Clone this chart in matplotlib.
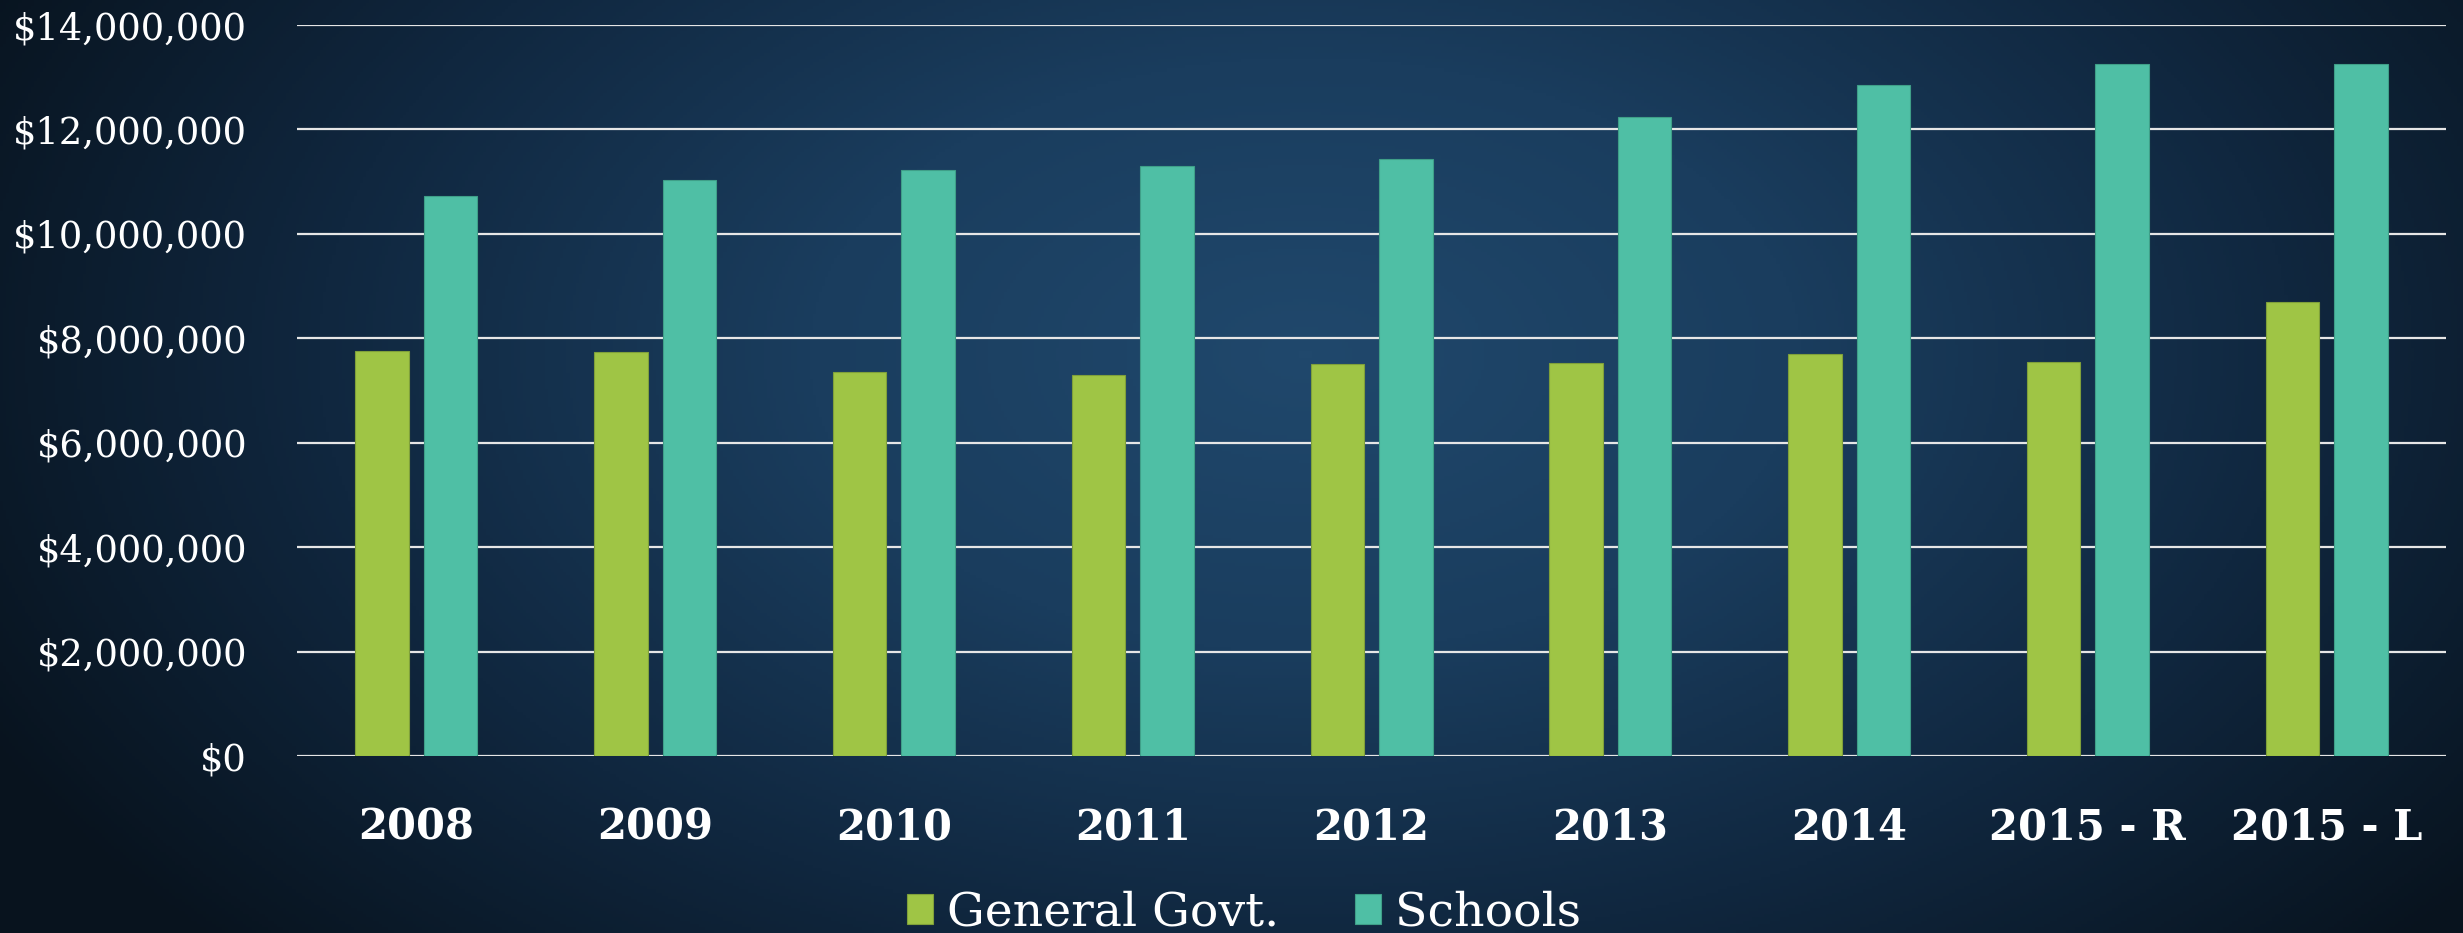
import numpy as np
import matplotlib
matplotlib.use("Agg")
import matplotlib.pyplot as plt
from matplotlib.ticker import FuncFormatter
from matplotlib.colors import LinearSegmentedColormap

# data
years = ['2008', '2009', '2010', '2011', '2012', '2013', '2014', '2015 - R', '2015 - L']
general_govt = [7760000, 7740000, 7350000, 7290000, 7510000, 7530000, 7690000, 7540000, 8690000]
schools = [10720000, 11030000, 11230000, 11300000, 11440000, 12230000, 12850000, 13260000, 13260000]

green = '#9fc545'
teal = '#4fbfa5'

plt.rcParams['font.family'] = ['DejaVu Serif']

fig = plt.figure(figsize=(24.63, 9.33), dpi=100)

# background: dark blue vignette, brightest upper centre
bg = fig.add_axes([0, 0, 1, 1], zorder=-10)
yy, xx = np.mgrid[0:1:300j, 0:1:800j]
r = np.sqrt(((xx - 0.53) / 0.6) ** 2 + ((yy - 0.38) / 0.95) ** 2)
cmap = LinearSegmentedColormap.from_list('bg', ['#20486c', '#1a3d5e', '#10273f', '#08131e'])
bg.imshow(r, cmap=cmap, vmin=0, vmax=1.0, aspect='auto', extent=[0, 1, 0, 1])
bg.axis('off')

ax = fig.add_axes([0.1206, 0.1897, 0.9931 - 0.1206, 0.9732 - 0.1897])
ax.patch.set_alpha(0)

x = np.arange(len(years))
w = 0.224
off = 0.1435
ax.bar(x - off, general_govt, w, color=green, edgecolor='#7fa03a', linewidth=0.8,
       label='General Govt.', zorder=3)
ax.bar(x + off, schools, w, color=teal, edgecolor='#3f9f88', linewidth=0.8,
       label='Schools', zorder=3)

ax.set_xlim(-0.5, len(years) - 0.5)
ax.set_ylim(0, 14000000)
ax.set_yticks(np.arange(0, 14000001, 2000000))
ax.yaxis.set_major_formatter(FuncFormatter(lambda v, p: '${:,.0f}'.format(v)))
ax.grid(axis='y', color='#e6e6e6', linewidth=1.6, zorder=1)
ax.set_axisbelow(True)
for s in ax.spines.values():
    s.set_visible(False)

ax.set_xticks(x)
ax.set_xticklabels(years, fontsize=30, fontweight='bold', color='white')
ax.tick_params(axis='x', length=0, pad=36)
ax.tick_params(axis='y', length=0, pad=36, labelsize=26.5, labelcolor='white')

leg = fig.legend(loc='lower center', bbox_to_anchor=(0.505, -0.048), ncol=2, frameon=False,
                 fontsize=34, handlelength=0.55, handleheight=0.6, handletextpad=0.3,
                 columnspacing=1.6, labelcolor='white')

fig.savefig('out.png', dpi=100)
